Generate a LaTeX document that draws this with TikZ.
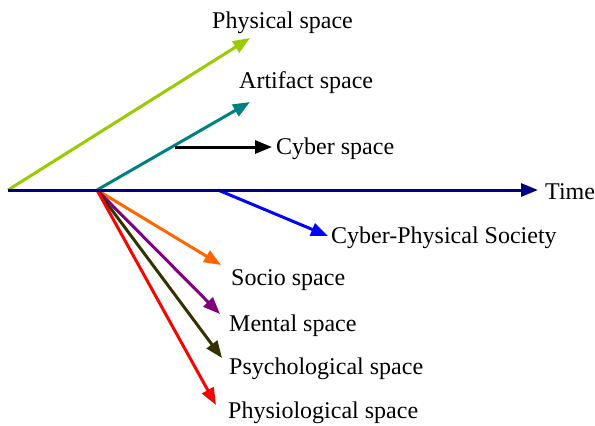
\documentclass[tikz,border=0pt]{standalone}
\usepackage{fontspec}
\setmainfont{Liberation Serif}
\usetikzlibrary{arrows.meta}
\definecolor{cphys}{HTML}{99CC00}
\definecolor{cteal}{HTML}{008080}
\definecolor{cnavy}{HTML}{000080}
\definecolor{cblue}{HTML}{0000FF}
\definecolor{corange}{HTML}{FF6600}
\definecolor{cpurple}{HTML}{800080}
\definecolor{colive}{HTML}{333300}
\definecolor{cred}{HTML}{FF0000}
\tikzset{
  axarrow/.style={line width=3pt, -{Triangle[length=17pt,width=13pt]}},
  lbl/.style={anchor=base west, inner sep=0pt, font=\fontsize{24}{28}\selectfont}
}
\begin{document}
\begin{tikzpicture}[x=1pt,y=-1pt]
\useasboundingbox (0,0) rectangle (595,426);
% coordinates
\coordinate (O) at (8,190);
\coordinate (A) at (97,190);
\coordinate (C) at (175,147);
\coordinate (B) at (218,190);
\coordinate (tPhys) at (250,38);
\coordinate (tArt) at (250,102);
\coordinate (tCyb) at (272,147);
\coordinate (tTime) at (538,190);
\coordinate (tCPS) at (328,236);
\coordinate (tSoc) at (221,265);
\coordinate (tMen) at (220,314);
\coordinate (tPsy) at (222,358);
\coordinate (tPhy) at (216,405);
% labels
\node[lbl] (lPhys) at (212,28) {Physical space};
\node[lbl] (lArt) at (239,88) {Artifact space};
\node[lbl] (lCyb) at (276,154) {Cyber space};
\node[lbl] (lTime) at (545,199) {Time};
\node[lbl] (lCPS) at (331,243) {Cyber-Physical Society};
\node[lbl] (lSoc) at (231,285) {Socio space};
\node[lbl] (lMen) at (229,331) {Mental space};
\node[lbl] (lPsy) at (229,374) {Psychological space};
\node[lbl] (lPhy) at (228,418) {Physiological space};
% arrows
\draw[axarrow, cphys] (O) -- (tPhys);
\draw[axarrow, cteal] (A) -- (tArt);
\draw[axarrow, black] (C) -- (tCyb);
\draw[axarrow, cblue] (B) -- (tCPS);
\draw[axarrow, corange] (A) -- (tSoc);
\draw[axarrow, cpurple] (A) -- (tMen);
\draw[axarrow, colive] (A) -- (tPsy);
\draw[axarrow, cred] (A) -- (tPhy);
\draw[axarrow, cnavy] (O) -- (tTime);
\end{tikzpicture}
\end{document}
